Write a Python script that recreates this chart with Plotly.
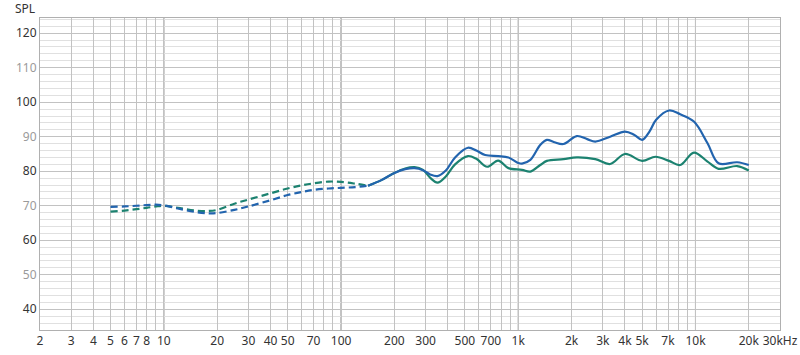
import plotly.graph_objects as go

# ---- data ----
BLUE_LOW_F = [5, 6, 7, 8, 9, 10, 12, 15, 18, 20, 25, 30, 40, 50, 60, 70, 85, 100, 120, 142]
BLUE_LOW_DB = [69.7, 69.8, 70.0, 70.2, 70.3, 70.1, 69.2, 68.2, 67.8, 67.9, 68.8, 69.8, 71.6, 73.1,
               74.0, 74.6, 75.0, 75.2, 75.4, 75.8]
TEAL_LOW_F = [5, 6, 7, 8, 9, 10, 12, 15, 18, 20, 25, 30, 40, 50, 60, 70, 85, 100, 120, 142]
TEAL_LOW_DB = [68.3, 68.6, 69.0, 69.4, 69.8, 70.0, 69.4, 68.6, 68.5, 68.8, 70.6, 71.8, 73.6, 75.0,
               75.9, 76.5, 77.0, 76.9, 76.4, 75.8]

BLUE_F = [142, 170, 200, 230, 260, 290, 320, 350, 390, 440, 520, 580, 650, 770, 880, 1000, 1050,
          1170, 1330, 1450, 1600, 1800, 2140, 2450, 2720, 3300, 4000, 4500, 5000, 5500, 6000, 7100,
          8200, 9800, 11700, 13500, 17200, 20000]
BLUE_DB = [75.8, 77.5, 79.5, 80.6, 80.9, 80.3, 79.0, 78.6, 80.2, 84.0, 86.8, 86.0, 84.7, 84.4, 84.0,
           82.4, 82.2, 83.3, 87.6, 89.1, 88.4, 87.9, 90.2, 89.3, 88.6, 90.0, 91.5, 90.6, 89.1, 91.5,
           94.9, 97.6, 96.5, 94.4, 88.1, 82.3, 82.6, 81.8]
TEAL_F = [142, 170, 200, 230, 260, 290, 320, 350, 390, 440, 520, 580, 668, 770, 880, 1050, 1170,
          1330, 1450, 1800, 2140, 2720, 3300, 4000, 5000, 5950, 7100, 8200, 9800, 11700, 13500,
          17200, 20000]
TEAL_DB = [75.8, 77.5, 79.5, 80.8, 81.2, 80.4, 78.0, 76.7, 78.5, 82.0, 84.4, 83.6, 81.3, 83.1, 80.9,
           80.4, 79.9, 81.8, 83.0, 83.5, 84.0, 83.5, 82.1, 85.0, 83.0, 84.2, 83.0, 81.8, 85.4, 82.8,
           80.7, 81.5, 80.2]

X_LABELS = {2: "2", 3: "3", 4: "4", 5: "5", 6: "6", 7: "7", 8: "8", 10: "10", 20: "20", 30: "30",
            40: "40", 50: "50", 70: "70", 100: "100", 200: "200", 300: "300", 500: "500",
            700: "700", 1000: "1k", 2000: "2k", 3000: "3k", 4000: "4k", 5000: "5k", 7000: "7k",
            10000: "10k", 20000: "20k", 30000: "30kHz"}
DECADES = [10, 100, 1000, 10000]
Y_TICKS = [40, 50, 60, 70, 80, 90, 100, 110, 120]

BLUE = "#2264ae"
TEAL = "#1c8270"

# grid positions: every integer multiple within each decade
grid_f = []
for dec in [1, 10, 100, 1000, 10000]:
    for m in range(1, 10):
        f = dec * m
        if 2 <= f <= 30000:
            grid_f.append(f)
grid_text = [X_LABELS.get(f, "") for f in grid_f]

y_text = [str(v) if (v // 10) % 2 == 0 else f'<span style="color:#9a9a9a">{v}</span>' for v in Y_TICKS]

fig = go.Figure()
dash = "7px,4px"
fig.add_trace(go.Scatter(x=TEAL_LOW_F, y=TEAL_LOW_DB, mode="lines",
                         line=dict(color=TEAL, width=2.2, dash=dash, shape="spline", smoothing=1.0)))
fig.add_trace(go.Scatter(x=BLUE_LOW_F, y=BLUE_LOW_DB, mode="lines",
                         line=dict(color=BLUE, width=2.2, dash=dash, shape="spline", smoothing=1.0)))
fig.add_trace(go.Scatter(x=TEAL_F, y=TEAL_DB, mode="lines",
                         line=dict(color=TEAL, width=2.2, shape="spline", smoothing=1.0)))
fig.add_trace(go.Scatter(x=BLUE_F, y=BLUE_DB, mode="lines",
                         line=dict(color=BLUE, width=2.2, shape="spline", smoothing=1.0)))

for d in DECADES:
    fig.add_shape(type="line", xref="x", yref="paper", x0=d, x1=d, y0=0, y1=1,
                  line=dict(color="#7a7a7a", width=1), layer="below")

fig.update_layout(
    width=800, height=355,
    margin=dict(l=40, r=20, t=18, b=25, autoexpand=False),
    paper_bgcolor="white", plot_bgcolor="white",
    showlegend=False,
    font=dict(family="Noto Sans, Open Sans, sans-serif", size=12, color="#333333"),
    xaxis=dict(type="log", range=[0.30103, 4.4771], tickmode="array", tickvals=grid_f,
               ticktext=grid_text, showgrid=True, gridcolor="#c2c2c2", gridwidth=1,
               showline=True, linecolor="#b0b0b0", mirror=True, ticks="", zeroline=False,
               automargin=False, tickfont=dict(size=12, color="#333333")),
    yaxis=dict(range=[34, 124.4], tickmode="array", tickvals=Y_TICKS, ticktext=y_text,
               showgrid=True, gridcolor="#c2c2c2", gridwidth=1,
               minor=dict(dtick=2, tick0=0, showgrid=True, gridcolor="#e0e0e0", gridwidth=1),
               showline=True, linecolor="#b0b0b0", mirror=True, ticks="", zeroline=False,
               automargin=False, tickfont=dict(size=12, color="#333333")),
    annotations=[dict(text="SPL", xref="paper", yref="paper", x=0, y=1.029, xanchor="right",
                      yanchor="middle", xshift=-3, showarrow=False,
                      font=dict(size=12, color="#333333"))],
)

fig.write_html("out.html")
